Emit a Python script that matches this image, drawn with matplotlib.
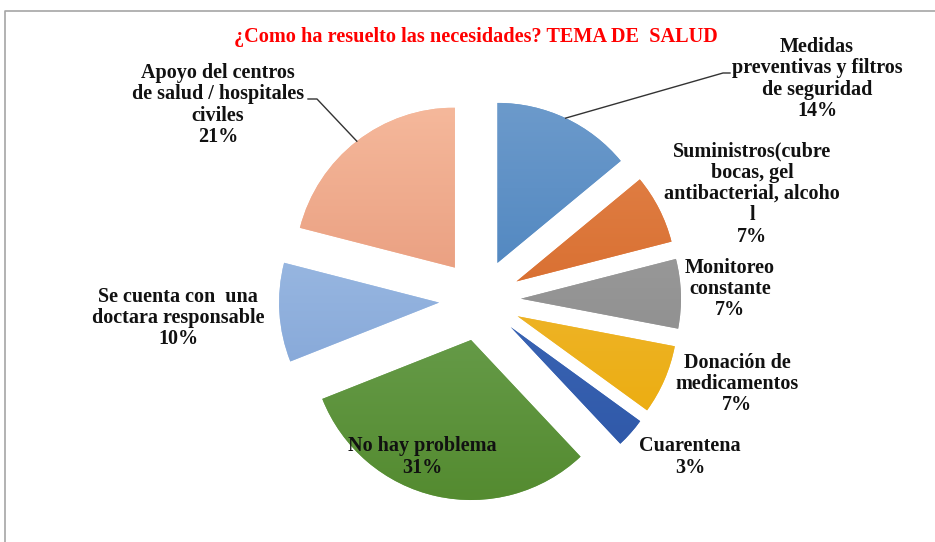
import numpy as np
import matplotlib
matplotlib.use("Agg")
import matplotlib.pyplot as plt
from matplotlib.colors import to_rgb

# ---- data ----
categories = [
    "Medidas\npreventivas y filtros\nde seguridad",
    "Suministros(cubre\nbocas, gel\nantibacterial, alcoho\nl",
    "Monitoreo\nconstante",
    "Donación de\nmedicamentos",
    "Cuarentena",
    "No hay problema",
    "Se cuenta con  una\ndoctara responsable",
    "Apoyo del centros\nde salud / hospitales\nciviles",
]
values = [14, 7, 7, 7, 3, 31, 10, 21]
title = "¿Como ha resuelto las necesidades? TEMA DE  SALUD"

# gradient colours (top, bottom)
top_colors = ["#6C9ACB", "#E2834A", "#A3A3A3", "#F0BC45", "#4570BF", "#76A95E", "#A8C4E8", "#F5B89B"]
bot_colors = ["#3B78B8", "#D15F1C", "#858585", "#EBAA05", "#2D56A6", "#548B30", "#7A9ED3", "#E08A6A"]

# label positions (pixels from top-left)
label_pos = [(817, 79), (752, 194), (730, 289), (737, 384), (690, 457),
             (422, 457), (178, 318), (218, 105)]
leader_elbow = {0: [(723, 73), (730, 73)], 7: [(317, 99), (308, 99)]}

W, H = 935, 542
fig = plt.figure(figsize=(W / 100, H / 100), dpi=100)
ax = fig.add_axes([0, 0, 1, 1])

radius = 160
explode = [41] * len(values)
center = (480, H - 300)

wedges, _ = ax.pie(values, radius=radius, center=center, explode=explode,
                   startangle=90, counterclock=False,
                   colors=top_colors, wedgeprops=dict(linewidth=0))

# gradient fills clipped to wedges
for w, tc, bc in zip(wedges, top_colors, bot_colors):
    cx, cy = w.center
    t = np.linspace(0, 1, 256)[:, None, None]
    grad = (1 - t) * np.array(to_rgb(bc)) + t * np.array(to_rgb(tc))
    grad = np.repeat(grad, 2, axis=1)
    im = ax.imshow(grad, extent=[cx - radius, cx + radius, cy - radius, cy + radius],
                   origin="lower", interpolation="bilinear", zorder=2, aspect="auto")
    im.set_clip_path(w)
ax.set_xlim(0, W)
ax.set_ylim(0, H)
ax.set_aspect("equal")
ax.axis("off")

font = "Liberation Serif"

for i, (cat, v) in enumerate(zip(categories, values)):
    x, y = label_pos[i]
    ax.text(x, H - y, f"{cat}\n{v}%", ha="center", va="center", fontsize=14.5,
            fontweight="bold", family=font, color="#111111", linespacing=1.09, zorder=5)

# leader lines from the middle of the wedge arc
for i, pts in leader_elbow.items():
    w = wedges[i]
    cx, cy = w.center
    tm = np.deg2rad((w.theta1 + w.theta2) / 2)
    sx, sy = cx + radius * np.cos(tm), cy + radius * np.sin(tm)
    xs = [sx] + [p[0] for p in pts]
    ys = [sy] + [H - p[1] for p in pts]
    ax.plot(xs, ys, color="#333333", lw=1, zorder=4)

ax.text(476, H - 37, title, ha="center", va="center", fontsize=14.6, fontweight="bold",
        family=font, color="#FF0000")

# chart frame
ax.plot([5, 5, W], [0, H - 11, H - 11], color="#A6A6A6", lw=1.2, zorder=1, clip_on=False)

fig.savefig("out.png", dpi=100)
